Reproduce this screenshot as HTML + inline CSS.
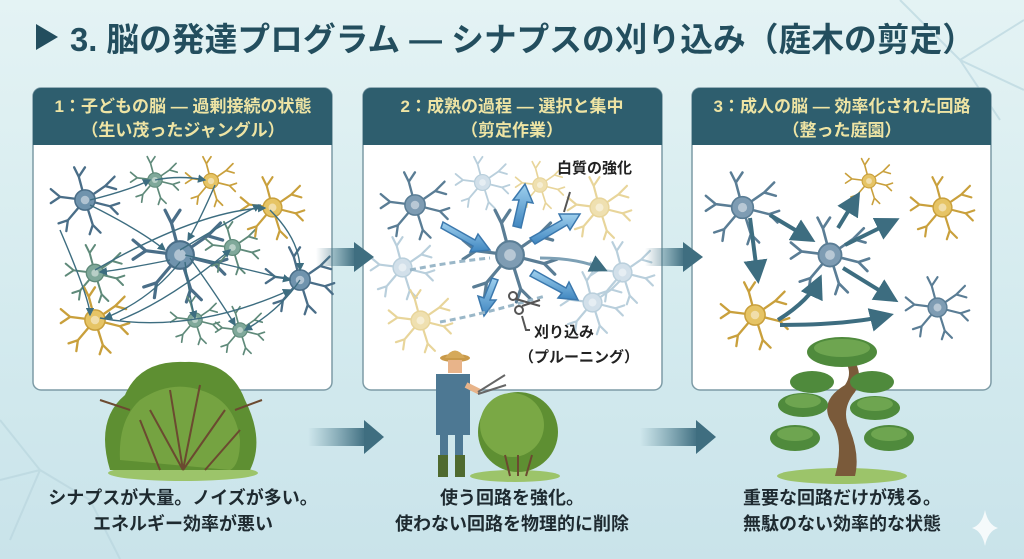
<!DOCTYPE html>
<html><head><meta charset="utf-8"><style>
html,body{margin:0;padding:0;width:1024px;height:559px;overflow:hidden;background:linear-gradient(180deg,#e4f3f4 0%,#d3eaee 60%,#c9e3ea 100%);}
svg{position:absolute;left:0;top:0}
text{font-family:"Liberation Sans","Noto Sans CJK JP",sans-serif;font-weight:bold}
</style></head><body>
<svg width="1024" height="559" viewBox="0 0 1024 559">
<defs>
<symbol id="n" viewBox="-45 -45 90 90" overflow="visible">
<g fill="none" stroke-linecap="round" stroke-width="3">
<path d="M0 0 L-8 -30 L-14 -42 M-8 -30 L0 -42"/>
<path d="M0 0 L26 -18 L38 -30 M26 -18 L40 -14"/>
<path d="M0 0 L32 8 L44 4 M32 8 L42 18"/>
<path d="M0 0 L10 32 L6 44 M10 32 L20 42"/>
<path d="M0 0 L-22 26 L-34 30 M-22 26 L-24 40"/>
<path d="M0 0 L-32 -4 L-44 -14 M-32 -4 L-44 4"/>
</g>
<circle r="13" stroke-width="2"/>
<circle r="5.5" fill="#fff" opacity=".45" stroke="none"/>
</symbol>
<marker id="ah" markerWidth="6" markerHeight="6" refX="5" refY="3" orient="auto"><path d="M0 0L6 3L0 6z" fill="#3d6d80"/></marker>
<linearGradient id="ag" x1="0" x2="1"><stop offset="0" stop-color="#4f7f90" stop-opacity="0"/><stop offset="1" stop-color="#3f6e80"/></linearGradient>
<linearGradient id="ba" x1="0" y1="0" x2="0" y2="1"><stop offset="0" stop-color="#9fd0ee"/><stop offset="1" stop-color="#3f86c0"/></linearGradient>
</defs>

<g stroke="#b9d6de" stroke-width="2" fill="none" opacity=".7">
<path d="M0 420 L40 470 L10 540 M40 470 L90 500 L120 559 M0 480 L40 470"/>
<path d="M1024 20 L960 60 L900 0 M960 60 L1000 120 M960 60 L1024 90"/>
</g>

<path d="M36 24 L58 37 L36 50 Z" fill="#234e5e"/>
<text x="70" y="51" font-size="33" fill="#234e5e" textLength="905" lengthAdjust="spacingAndGlyphs">3. 脳の発達プログラム ― シナプスの刈り込み（庭木の剪定）</text>

<g>
<rect x="33" y="88" width="299" height="302" rx="8" fill="#fff" stroke="#7d9ba6" stroke-width="1.5"/>
<path d="M33 145 V96 a8 8 0 0 1 8 -8 H324 a8 8 0 0 1 8 8 V145 Z" fill="#2e5e6e"/>
<rect x="363" y="88" width="299" height="302" rx="8" fill="#fff" stroke="#7d9ba6" stroke-width="1.5"/>
<path d="M363 145 V96 a8 8 0 0 1 8 -8 H654 a8 8 0 0 1 8 8 V145 Z" fill="#2e5e6e"/>
<rect x="692" y="88" width="299" height="302" rx="8" fill="#fff" stroke="#7d9ba6" stroke-width="1.5"/>
<path d="M692 145 V96 a8 8 0 0 1 8 -8 H983 a8 8 0 0 1 8 8 V145 Z" fill="#2e5e6e"/>
</g>
<g fill="#eee4a4" font-size="17" text-anchor="middle" font-weight="normal">
<text x="183" y="112">1：子どもの脳 ― 過剰接続の状態</text>
<text x="183" y="136">（生い茂ったジャングル）</text>
<text x="512" y="112">2：成熟の過程 ― 選択と集中</text>
<text x="512" y="136">（剪定作業）</text>
<text x="842" y="112">3：成人の脳 ― 効率化された回路</text>
<text x="842" y="136">（整った庭園）</text>
</g>

<g stroke="#4a6e88" fill="#6f93ad">
<use href="#n" x="50" y="165" width="70" height="70"/>
<use href="#n" x="132" y="207" width="96" height="96"/>
<use href="#n" x="265" y="245" width="70" height="70"/>
</g>
<g stroke="#5f8a7a" fill="#7fa89a">
<use href="#n" x="130" y="155" width="50" height="50"/>
<use href="#n" x="65" y="243" width="60" height="60"/>
<use href="#n" x="205" y="220" width="55" height="55"/>
<use href="#n" x="170" y="295" width="50" height="50"/>
<use href="#n" x="215" y="305" width="50" height="50"/>
</g>
<g stroke="#c9a03c" fill="#e6c465">
<use href="#n" x="185" y="155" width="52" height="52"/>
<use href="#n" x="240" y="175" width="65" height="65"/>
<use href="#n" x="60" y="285" width="70" height="70"/>
</g>
<g stroke="#3d6d80" stroke-width="1.4" fill="none" marker-end="url(#ah)">
<path d="M90 200 Q130 190 150 180"/><path d="M90 205 Q140 230 165 250"/>
<path d="M180 250 Q230 220 260 205"/><path d="M185 255 Q250 270 290 280"/>
<path d="M170 260 Q120 270 100 272"/><path d="M180 262 Q150 300 105 318"/>
<path d="M185 262 Q190 300 195 318"/><path d="M190 258 Q220 300 235 325"/>
<path d="M155 180 Q180 175 205 180"/><path d="M215 185 Q200 220 188 240"/>
<path d="M100 318 Q190 335 290 290"/><path d="M95 270 Q200 210 265 208"/>
<path d="M60 230 Q90 300 90 315"/><path d="M300 280 Q280 310 245 330"/>
<path d="M120 320 Q170 300 230 250"/><path d="M270 210 Q300 240 300 270"/>
</g>

<g stroke="#b9cfdc" fill="#d2e0ea">
<use href="#n" x="455" y="155" width="55" height="55"/>
<use href="#n" x="370" y="235" width="65" height="65"/>
<use href="#n" x="590" y="240" width="65" height="65"/>
<use href="#n" x="560" y="270" width="65" height="65"/>
</g>
<g stroke="#e8d59a" fill="#efe0b0">
<use href="#n" x="515" y="160" width="50" height="50"/>
<use href="#n" x="567" y="175" width="65" height="65"/>
<use href="#n" x="388" y="288" width="65" height="65"/>
</g>
<g stroke="#5a7d95" fill="#7e9cb3">
<use href="#n" x="380" y="170" width="70" height="70"/>
<use href="#n" x="462" y="207" width="96" height="96"/>
</g>
<g stroke="#3b78ad" stroke-width="1.5" fill="url(#ba)">
<path d="M443 222 L475 240 L478 234 L490 250 L470 252 L473 246 L441 228 Z"/>
<path d="M513 226 L519 200 L513 200 L525 184 L533 203 L527 202 L521 228 Z"/>
<path d="M530 238 L562 220 L559 214 L580 214 L570 230 L567 225 L535 244 Z"/>
<path d="M534 270 L566 288 L569 282 L578 300 L558 298 L562 293 L530 276 Z"/>
<path d="M498 280 L490 300 L496 300 L484 316 L478 296 L484 298 L492 278 Z"/>
</g>
<g fill="none" stroke="#9ab7c8" stroke-width="3" stroke-dasharray="6 4">
<path d="M410 270 Q450 262 490 258"/><path d="M440 322 Q480 315 545 296"/>
</g>
<path d="M540 258 Q580 258 605 270" stroke="#7da0b5" stroke-width="3" fill="none" marker-end="url(#ah)"/>
<g stroke="#555" stroke-width="2" fill="none">
<circle cx="513" cy="296" r="4"/><circle cx="519" cy="310" r="4"/>
<path d="M516 299 L540 306 M522 306 L540 300"/>
<path d="M570 192 L564 212"/><path d="M522 316 L526 330 H530"/>
</g>
<g font-size="15" fill="#222" font-weight="normal">
<text x="557" y="173">白質の強化</text>
<text x="534" y="337">刈り込み</text>
<text x="519" y="362">（プルーニング）</text>
</g>

<g stroke="#5a7d95" fill="#7e9cb3">
<use href="#n" x="705" y="170" width="75" height="75"/>
<use href="#n" x="790" y="215" width="80" height="80"/>
<use href="#n" x="905" y="275" width="65" height="65"/>
</g>
<g stroke="#c9a03c" fill="#e6c465">
<use href="#n" x="845" y="157" width="48" height="48"/>
<use href="#n" x="910" y="175" width="65" height="65"/>
<use href="#n" x="720" y="280" width="70" height="70"/>
</g>
<g stroke="#3d6d80" stroke-width="4" fill="none" marker-end="url(#ah)">
<path d="M770 215 L812 240"/><path d="M845 245 L896 220"/>
<path d="M838 228 L858 195"/><path d="M843 268 L895 300"/>
<path d="M750 218 L758 280"/><path d="M778 320 Q810 300 820 278"/>
<path d="M780 325 Q850 325 890 315"/>
</g>

<rect x="316" y="248" width="40" height="18" fill="url(#ag)"/><path d="M354 242 L374 257 L354 272 Z" fill="#3f6e80"/>
<rect x="645" y="248" width="40" height="18" fill="url(#ag)"/><path d="M683 242 L703 257 L683 272 Z" fill="#3f6e80"/>
<rect x="308" y="428" width="58" height="18" fill="url(#ag)"/><path d="M364 420 L384 437 L364 454 Z" fill="#3f6e80"/>
<rect x="640" y="428" width="58" height="18" fill="url(#ag)"/><path d="M696 420 L716 437 L696 454 Z" fill="#3f6e80"/>

<ellipse cx="183" cy="473" rx="75" ry="8" fill="#9cc46a"/>
<path d="M110 470 Q95 420 125 395 Q140 360 185 362 Q230 360 245 400 Q265 440 250 470 Z" fill="#5e8f32"/>
<path d="M120 460 Q118 420 140 400 Q170 380 200 390 Q235 400 240 440 Q240 465 230 470 Z" fill="#7aa845" opacity=".8"/>
<g stroke="#6b4a30" stroke-width="2" fill="none">
<path d="M183 470 L170 390 M183 470 L200 385 M183 470 L150 410 M183 470 L225 410 M160 470 L140 420 M205 470 L240 430 M130 410 L100 400 M235 410 L262 400"/>
</g>

<ellipse cx="455" cy="358" rx="15" ry="4" fill="#c99a4a"/>
<path d="M445 358 Q455 343 465 358 Z" fill="#d5a95a"/>
<rect x="448" y="360" width="14" height="13" fill="#e8b48a"/>
<path d="M436 374 H470 V435 H463 V465 H455 V435 H448 V465 H440 V435 H436 Z" fill="#4d7893"/>
<rect x="438" y="455" width="10" height="22" fill="#4f6a2f"/><rect x="455" y="455" width="10" height="22" fill="#4f6a2f"/>
<path d="M466 385 L480 392" stroke="#e8b48a" stroke-width="6"/>
<path d="M478 392 L505 375 M478 394 L506 385" stroke="#666" stroke-width="2"/>
<ellipse cx="515" cy="476" rx="45" ry="6" fill="#9cc46a"/>
<circle cx="518" cy="432" r="40" fill="#5e8f32"/>
<circle cx="512" cy="425" r="32" fill="#7aa845"/>
<path d="M510 476 L505 455 M518 476 L518 455 M526 476 L532 455" stroke="#6b4a30" stroke-width="2"/>

<ellipse cx="842" cy="476" rx="65" ry="8" fill="#9cc46a"/>
<path d="M835 476 Q845 440 830 420 Q820 400 845 385 Q855 370 840 355 L848 352 Q866 372 855 392 Q840 410 850 430 Q860 455 855 476 Z" fill="#7a5a3a"/>
<g fill="#4f8a3c">
<ellipse cx="842" cy="352" rx="35" ry="15"/>
<ellipse cx="812" cy="382" rx="22" ry="11"/><ellipse cx="872" cy="382" rx="22" ry="11"/>
<ellipse cx="803" cy="405" rx="25" ry="12"/><ellipse cx="875" cy="408" rx="25" ry="12"/>
<ellipse cx="795" cy="438" rx="25" ry="13"/><ellipse cx="889" cy="438" rx="25" ry="13"/>
</g>
<g fill="#6ea550"><ellipse cx="842" cy="348" rx="28" ry="9"/><ellipse cx="795" cy="434" rx="18" ry="7"/><ellipse cx="889" cy="434" rx="18" ry="7"/><ellipse cx="803" cy="401" rx="18" ry="7"/><ellipse cx="875" cy="404" rx="18" ry="7"/></g>

<g font-size="18" fill="#1e2a30" text-anchor="middle">
<text x="183" y="504">シナプスが大量。ノイズが多い。</text>
<text x="183" y="530">エネルギー効率が悪い</text>
<text x="512" y="504">使う回路を強化。</text>
<text x="512" y="530">使わない回路を物理的に削除</text>
<text x="842" y="504">重要な回路だけが残る。</text>
<text x="842" y="530">無駄のない効率的な状態</text>
</g>
<path d="M985 510 Q988 525 998 528 Q988 531 985 546 Q982 531 972 528 Q982 525 985 510Z" fill="#fff" opacity=".8"/>
</svg>
</body></html>
